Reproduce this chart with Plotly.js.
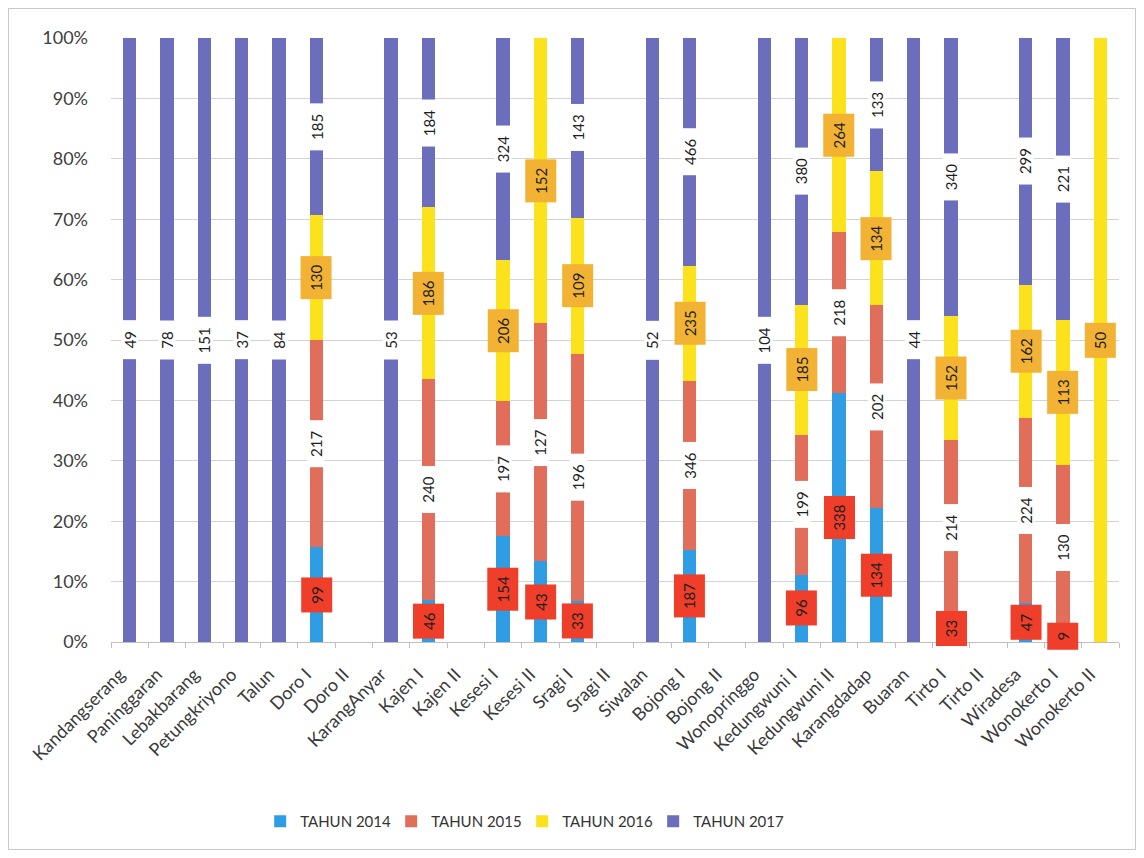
<!DOCTYPE html>
<html>
<head>
<meta charset="utf-8">
<script src="https://cdn.plot.ly/plotly-3.0.1.min.js"></script>
<style>
  html, body { margin: 0; padding: 0; background: #fff; }
  #chart { width: 1144px; height: 858px; }
  #frame { position: absolute; left: 8px; top: 8px; width: 1126px; height: 840px; border: 1px solid #c8c8c8; pointer-events: none; }
</style>
</head>
<body>
<div id="chart"></div>
<div id="frame"></div>
<script>
const categories = ["Kandangserang","Paninggaran","Lebakbarang","Petungkriyono","Talun","Doro I","Doro II","KarangAnyar","Kajen I","Kajen II","Kesesi I","Kesesi II","Sragi I","Sragi II","Siwalan","Bojong I","Bojong II","Wonopringgo","Kedungwuni I","Kedungwuni II","Karangdadap","Buaran","Tirto I","Tirto II","Wiradesa","Wonokerto I","Wonokerto II"];

const tahun2014 = [0,0,0,0,0,99,0,0,46,0,154,43,33,0,0,187,0,0,96,338,134,0,33,0,47,9,0];
const tahun2015 = [0,0,0,0,0,217,0,0,240,0,197,127,196,0,0,346,0,0,199,218,202,0,214,0,224,130,0];
const tahun2016 = [0,0,0,0,0,130,0,0,186,0,206,152,109,0,0,235,0,0,185,264,134,0,152,0,162,113,50];
const tahun2017 = [49,78,151,37,84,185,0,53,184,0,324,0,143,0,52,466,0,104,380,0,133,44,340,0,299,221,0];

const seriesNames = ["TAHUN 2014","TAHUN 2015","TAHUN 2016","TAHUN 2017"];
const seriesData = [tahun2014, tahun2015, tahun2016, tahun2017];
const colors = ["#2f9de3","#e06e5b","#fbe21c","#6b6dbd"];
const labelBg = ["#ef3e2a","#ffffff","#f2b233","#ffffff"];
const labelCross = [30,16,30,16];
const labelExtra = [18,22,18,22];

const FONT = "Lato, 'Open Sans', sans-serif";

const traces = seriesData.map((vals, i) => ({
  type: "bar",
  name: seriesNames[i],
  x: categories,
  y: vals,
  marker: { color: colors[i] },
  hoverinfo: "x+y+name"
}));

const annotations = [];
categories.forEach((cat, ci) => {
  const total = seriesData.reduce((s, arr) => s + arr[ci], 0);
  if (!total) return;
  let cum = 0;
  seriesData.forEach((arr, si) => {
    const v = arr[ci];
    if (v > 0) {
      const txt = String(v);
      annotations.push({
        x: cat, y: (cum + v / 2) / total * 100,
        xref: "x", yref: "y",
        text: txt,
        showarrow: false,
        textangle: -90,
        bgcolor: labelBg[si],
        borderpad: 0,
        width: txt.length * 8 + labelExtra[si],
        height: labelCross[si],
        align: "center", valign: "middle",
        font: { family: FONT, size: 15, color: "#1e1e1e" }
      });
    }
    cum += v;
  });
});

const layout = {
  width: 1144, height: 858,
  margin: { l: 111, r: 25, t: 38, b: 216 },
  paper_bgcolor: "#ffffff",
  plot_bgcolor: "#ffffff",
  barmode: "stack",
  barnorm: "percent",
  bargap: 0.65,
  font: { family: FONT, color: "#404040" },
  xaxis: {
    type: "category",
    tickangle: -45,
    tickfont: { size: 18, color: "#3a3a3a" },
    showline: true, linecolor: "#bfbfbf",
    ticks: "outside", tickson: "boundaries", ticklen: 5, tickcolor: "#bfbfbf",
    ticklabelstandoff: 14, ticklabelshift: -10,
    showgrid: false
  },
  yaxis: {
    range: [0, 100],
    dtick: 10,
    ticksuffix: "%",
    tickfont: { size: 18, color: "#404040" },
    showgrid: true, gridcolor: "#d4d4d4",
    zeroline: false,
    showline: false,
    ticks: "", ticklabelstandoff: 22
  },
  showlegend: true,
  legend: {
    orientation: "h",
    x: 0.148, xanchor: "left",
    y: -0.27, yanchor: "top",
    font: { size: 15, color: "#333" },
    entrywidth: 86, entrywidthmode: "pixels",
    traceorder: "normal"
  },
  annotations: annotations
};

Plotly.newPlot("chart", traces, layout, { displayModeBar: false, responsive: false });
</script>
</body>
</html>
